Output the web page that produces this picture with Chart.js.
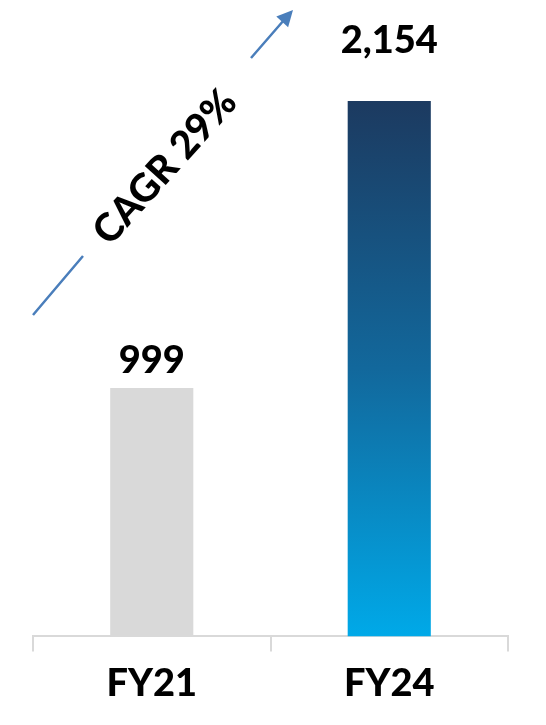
<!DOCTYPE html>
<html>
<head>
<meta charset="utf-8">
<script src="https://cdn.jsdelivr.net/npm/chart.js@4"></script>
<style>
  html, body { margin: 0; padding: 0; background: #ffffff; }
  #wrap { width: 546px; height: 725px; position: relative; }
</style>
</head>
<body>
<div id="wrap"><canvas id="c"></canvas></div>
<script>
const categories = ['FY21', 'FY24'];
const values = [999, 2154];
const valueLabels = ['999', '2,154'];
const cagrLabel = 'CAGR 29%';

const FONT = 'Lato, "Open Sans", sans-serif';
const WEIGHT = '900';

function barColor(ctx) {
  if (ctx.dataIndex === 0) return '#d9d9d9';
  const chart = ctx.chart;
  const area = chart.chartArea;
  if (!area || !chart.scales.y) return '#0f6fa5';
  const yTop = chart.scales.y.getPixelForValue(values[ctx.dataIndex]);
  const yBot = chart.scales.y.getPixelForValue(0);
  const g = chart.ctx.createLinearGradient(0, yTop, 0, yBot);
  g.addColorStop(0, '#1c3a60');
  g.addColorStop(0.5, '#12689c');
  g.addColorStop(1, '#00a9e8');
  return g;
}

const annotPlugin = {
  id: 'annot',
  afterDatasetsDraw(chart) {
    const c = chart.ctx;
    const meta = chart.getDatasetMeta(0);
    const offsets = [27, 60];
    c.save();
    c.fillStyle = '#000000';
    c.font = WEIGHT + ' 38px ' + FONT;
    c.textAlign = 'center';
    c.textBaseline = 'middle';
    meta.data.forEach((bar, i) => {
      c.fillText(valueLabels[i], bar.x, bar.y - offsets[i]);
    });
    // CAGR arrow
    c.strokeStyle = '#4a7ebb';
    c.fillStyle = '#4a7ebb';
    c.lineWidth = 2.5;
    c.beginPath();
    c.moveTo(33, 315); c.lineTo(83, 256);
    c.moveTo(251, 58); c.lineTo(284, 20);
    c.stroke();
    // arrow head
    const ang = Math.atan2(12 - 58, 293 - 251);
    const tipX = 293, tipY = 10;
    const L = 16, W = 8;
    const bx = tipX - L * Math.cos(ang), by = tipY - L * Math.sin(ang);
    c.beginPath();
    c.moveTo(tipX, tipY);
    c.lineTo(bx + W * Math.sin(ang), by - W * Math.cos(ang));
    c.lineTo(bx - W * Math.sin(ang), by + W * Math.cos(ang));
    c.closePath();
    c.fill();
    // rotated text
    c.translate(165, 167);
    c.rotate(-48 * Math.PI / 180);
    c.fillStyle = '#000000';
    c.font = WEIGHT + ' 39px ' + FONT;
    c.fillText(cagrLabel, 0, 0);
    c.restore();
  }
};

new Chart(document.getElementById('c'), {
  type: 'bar',
  data: {
    labels: categories,
    datasets: [{
      data: values,
      backgroundColor: barColor,
      borderWidth: 0,
      categoryPercentage: 1,
      barPercentage: 0.35
    }]
  },
  options: {
    responsive: true,
    maintainAspectRatio: false,
    animation: false,
    devicePixelRatio: 1,
    layout: { padding: { left: 33, right: 38, top: 10, bottom: 8 } },
    plugins: { legend: { display: false }, tooltip: { enabled: false } },
    scales: {
      y: { display: false, min: 0, max: 2520 },
      x: {
        grid: { display: true, drawOnChartArea: false, drawTicks: true, tickLength: 15, color: '#d9d9d9', lineWidth: 2, offset: true },
        border: { display: true, color: '#d9d9d9', width: 2 },
        ticks: { color: '#000000', font: { family: FONT, size: 38, weight: WEIGHT }, padding: 10 }
      }
    }
  },
  plugins: [annotPlugin]
});
</script>
</body>
</html>
